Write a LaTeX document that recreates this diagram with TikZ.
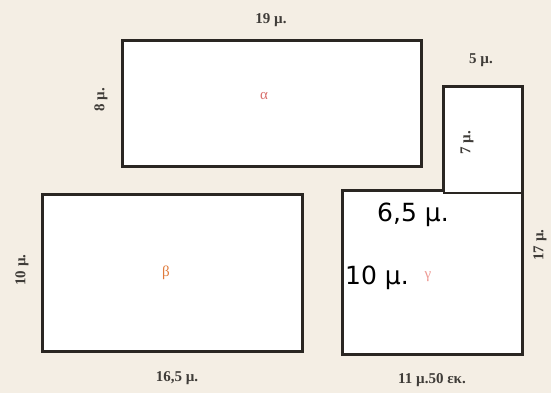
\documentclass[tikz,border=0pt]{standalone}
\usepackage{fontspec}
\setmainfont{Liberation Serif}
\newfontfamily\bigsans{DejaVu Sans}
\definecolor{bgc}{HTML}{F4EEE4}
\definecolor{edge}{HTML}{2A2622}
\definecolor{alphac}{HTML}{D9706E}
\definecolor{betac}{HTML}{E07A3A}
\definecolor{gammac}{HTML}{EE9A94}
\begin{document}
\begin{tikzpicture}[x=1pt,y=-1pt,
  box/.style={draw=edge,line width=3pt,fill=white},
  dimlbl/.style={font=\fontsize{15}{16}\selectfont\bfseries,text=edge!90,inner sep=0pt},
  biglbl/.style={font=\bigsans\fontsize{25}{27}\selectfont,text=black,inner sep=0pt},
  greek/.style={font=\fontsize{15}{16}\selectfont,inner sep=0pt}]
\fill[bgc] (0,0) rectangle (551,393);
\useasboundingbox (0,0) rectangle (551,393);
% top rectangle
\draw[box] (122,41) rectangle (421,166);
% left bottom rectangle
\draw[box] (42,194) rectangle (302,351);
% L shape (bottom right + small)
\draw[box,line join=miter] (443,190) -- (342,190) -- (342,354) -- (522,354) -- (522,87) -- (443,87) -- cycle;
\draw[edge,line width=1.8pt] (443,193) -- (522,193);
% labels
\node[dimlbl] (t19) at (271,20) {19 µ.};
\node[dimlbl,rotate=90] (t8) at (101,100) {8 µ.};
\node[greek,text=alphac] (ta) at (264,96) {α};
\node[dimlbl] (t5) at (481,60) {5 µ.};
\node[dimlbl,rotate=90] (t7) at (467,143) {7 µ.};
\node[dimlbl,rotate=90] (t10) at (22,270) {10 µ.};
\node[greek,text=betac] (tb) at (166,273) {β};
\node[dimlbl] (t165) at (177,378) {16,5 µ.};
\node[dimlbl,rotate=90] (t17) at (540,245) {17 µ.};
\node[dimlbl] (t11) at (432,380) {11 µ.50 εκ.};
\node[biglbl] (t65) at (413,215) {6,5 µ.};
\node[biglbl,anchor=west] (t10b) at (345,278) {10 µ.};
\node[greek,text=gammac] (tg) at (428,277) {γ};
\end{tikzpicture}
\end{document}
